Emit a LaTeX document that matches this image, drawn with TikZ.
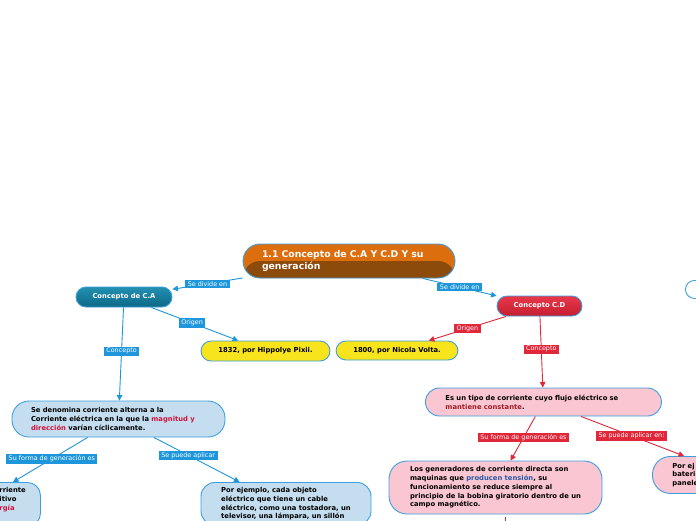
\documentclass[tikz,border=0pt]{standalone}
\usepackage{fontspec}
\setmainfont{DejaVu Sans}
\usetikzlibrary{arrows.meta, positioning, calc}
\definecolor{azulborde}{HTML}{3E9FE0}
\definecolor{azuletq}{HTML}{1E96DC}
\definecolor{rojoetq}{HTML}{E0283A}
\definecolor{naranja}{HTML}{DC6E0E}
\definecolor{cafe}{HTML}{8C4A0B}
\definecolor{celeste}{HTML}{C4DEF0}
\definecolor{rosa}{HTML}{F9C6D1}
\definecolor{amarillo}{HTML}{F7E41C}
\definecolor{carmesi}{HTML}{D2123C}
\definecolor{granate}{HTML}{A01C28}
\definecolor{azultexto}{HTML}{2A5AA8}
\definecolor{petroleoclaro}{HTML}{2290B2}
\definecolor{petroleo}{HTML}{0D6886}
\definecolor{rojoclaro}{HTML}{E8384A}
\definecolor{rojooscuro}{HTML}{C41E30}

\begin{document}
\begin{tikzpicture}[
  x=1pt, y=-1pt,
  every node/.style={font=\fontsize{6.8}{8.7}\selectfont\bfseries},
  caja/.style={draw=azulborde, line width=0.9pt, rounded corners=#1, align=left, inner ysep=0pt},
  caja/.default=10pt,
  tema/.style={caja=17pt, fill=naranja, text=white, font=\fontsize{9.3}{12}\selectfont\bfseries,
    path picture={\fill[cafe] (path picture bounding box.west) rectangle (path picture bounding box.south east);}},
  concepto/.style={caja=10pt, text=white, minimum height=20pt, align=center},
  fecha/.style={caja=10pt, fill=amarillo, minimum height=20pt, align=center},
  etq/.style={fill=azuletq, text=white, font=\fontsize{6.4}{7}\selectfont, inner xsep=2.5pt, inner ysep=1.6pt},
  etqroja/.style={etq, fill=rojoetq},
  flechaazul/.style={draw=azuletq, line width=0.9pt, -{Triangle[length=5.5pt, width=5.5pt]}},
  flecharoja/.style={flechaazul, draw=rojoetq}
]
  \useasboundingbox (0,0) rectangle (696,520);
  \fill[white] (0,0) rectangle (696,520);
  \clip (0,0) rectangle (696,520);

  % nodo central
  \node[tema, text width=174pt, inner xsep=19pt, minimum height=34pt] (tema) at (349,261)
    {1.1 Concepto de C.A Y C.D Y su\\generación};

  % corriente alterna
  \node[concepto, top color=petroleoclaro, bottom color=petroleo, minimum width=96pt] (ca) at (124,297) {Concepto de C.A};
  \node[fecha, minimum width=129pt] (pix) at (265.5,351) {1832, por Hippolye Pixii.};
  \node[caja=17pt, fill=celeste, text width=175pt, inner xsep=19pt, minimum height=36pt] (denom) at (118.5,419)
    {Se denomina corriente alterna a la\\Corriente eléctrica en la que la \textcolor{carmesi}{magnitud y}\\\textcolor{carmesi}{dirección} varían cíclicamente.};
  \node[caja=13pt, fill=celeste, anchor=north west, text width=22pt, inner xsep=19pt, inner ysep=5pt] (izq) at (-20,482)
    {rriente\\itivo\\\textcolor{carmesi}{rgía}\\\strut};
  \node[caja=14pt, fill=celeste, anchor=north, minimum width=170pt, inner ysep=5pt] (por) at (286,482)
    {Por ejemplo, cada objeto\\eléctrico que tiene un cable\\eléctrico, como una tostadora, un\\televisor, una lámpara, un sillón};

  % corriente directa
  \node[concepto, top color=rojoclaro, bottom color=rojooscuro, minimum width=85pt] (cd) at (539.5,306) {Concepto C.D};
  \node[fecha, minimum width=122pt, minimum height=19pt] (vol) at (397,350.5) {1800, por Nicola Volta.};
  \node[caja=14pt, fill=rosa, anchor=west, text width=196pt, inner xsep=20pt, minimum height=28pt] (tipo) at (425,402)
    {Es un tipo de corriente cuyo flujo eléctrico se\\\textcolor{granate}{mantiene constante}.};
  \node[caja=18pt, fill=rosa, minimum width=213pt, minimum height=53pt] (gen) at (495.5,487.5)
    {Los generadores de corriente directa son\\maquinas que \textcolor{azultexto}{producen tensión}, su\\funcionamiento se reduce siempre al\\principio de la bobina giratorio dentro de un\\campo magnético.};
  \node[caja=18pt, fill=rosa, anchor=north west, text width=60pt, inner xsep=20pt, minimum height=37pt] (der) at (652,456)
    {Por ej\\bateri\\panele};
  \node[caja=9pt, fill=white, anchor=north west, minimum width=60pt, minimum height=18pt] (arriba) at (685,280) {};
  \coordinate (salida) at (505.5,545);

  % conectores
  \draw[flechaazul] (tema) -- node[etq]{Se divide en} (ca);
  \draw[flechaazul] (tema) -- node[etq]{Se divide en} (cd);
  \draw[flechaazul] (ca) -- node[etq, pos=0.47]{Origen} (pix);
  \draw[flechaazul] (ca) -- node[etq, pos=0.47]{Concepto} (denom);
  \draw[flechaazul] (denom) -- node[etq, pos=0.48]{Su forma de generación es} ([xshift=33pt]izq.north west);
  \draw[flechaazul] (denom) -- node[etq, pos=0.4]{Se puede aplicar} ([xshift=39pt]por.north west);
  \draw[flecharoja] (cd) -- node[etqroja]{Origen} (vol);
  \draw[flecharoja] (cd) -- node[etqroja, pos=0.46]{Concepto} (tipo);
  \draw[flecharoja] (tipo) -- node[etqroja, pos=0.48]{Su forma de generación es} (gen);
  \draw[flecharoja] (tipo) -- node[etqroja, pos=0.49]{Se puede aplicar en:} ([xshift=32pt]der.north west);
  \draw[draw=rojoetq, line width=0.9pt] ([xshift=10pt, yshift=-3pt]gen.south) -- (salida);
\end{tikzpicture}
\end{document}
